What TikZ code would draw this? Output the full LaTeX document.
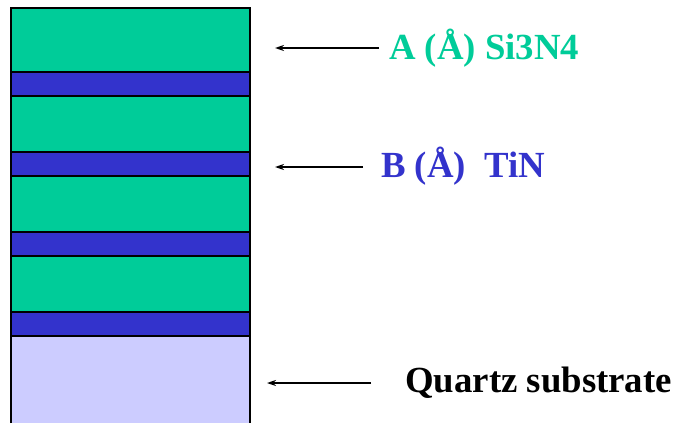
\documentclass[tikz,border=0pt]{standalone}
\usepackage{fontspec}
\setmainfont{Liberation Serif}
\usetikzlibrary{arrows.meta}
\definecolor{sinc}{HTML}{00CC99}
\definecolor{tinc}{HTML}{3333CC}
\definecolor{quartzc}{HTML}{CCCCFF}
\begin{document}
\begin{tikzpicture}[x=1pt,y=-1pt,
  layer/.style={draw=black,line width=1.5pt},
  arr/.style={-{Stealth[length=9pt,width=6pt]},line width=1.5pt},
  lbl/.style={font=\bfseries\fontsize{36.8}{40}\selectfont, anchor=base west, inner sep=0pt}]
\useasboundingbox (0,0) rectangle (679,423);
\fill[white] (0,0) rectangle (679,423);
% substrate
\fill[quartzc] (11,336) rectangle (250,423);
\draw[line width=1.5pt] (11,423) -- (11,336) -- (250,336) -- (250,423);
% layers
\filldraw[layer,fill=sinc] (11,8) rectangle (250,72);
\filldraw[layer,fill=tinc] (11,72) rectangle (250,96);
\filldraw[layer,fill=sinc] (11,96) rectangle (250,152);
\filldraw[layer,fill=tinc] (11,152) rectangle (250,176);
\filldraw[layer,fill=sinc] (11,176) rectangle (250,232);
\filldraw[layer,fill=tinc] (11,232) rectangle (250,256);
\filldraw[layer,fill=sinc] (11,256) rectangle (250,312);
\filldraw[layer,fill=tinc] (11,312) rectangle (250,336);
% labels
\node[lbl,text=sinc] (la) at (389,59) {A (Å) Si3N4};
\node[lbl,text=tinc] (lb) at (381,177) {B (Å)\ \ TiN};
\node[lbl] (lq) at (405,392) {Quartz substrate};
% arrows
\coordinate (at) at (379,48); \coordinate (ah) at (275,48);
\coordinate (bt) at (363,167); \coordinate (bh) at (275,167);
\coordinate (qt) at (371,383); \coordinate (qh) at (267,383);
\draw[arr] (at) -- (ah);
\draw[arr] (bt) -- (bh);
\draw[arr] (qt) -- (qh);
\end{tikzpicture}
\end{document}
